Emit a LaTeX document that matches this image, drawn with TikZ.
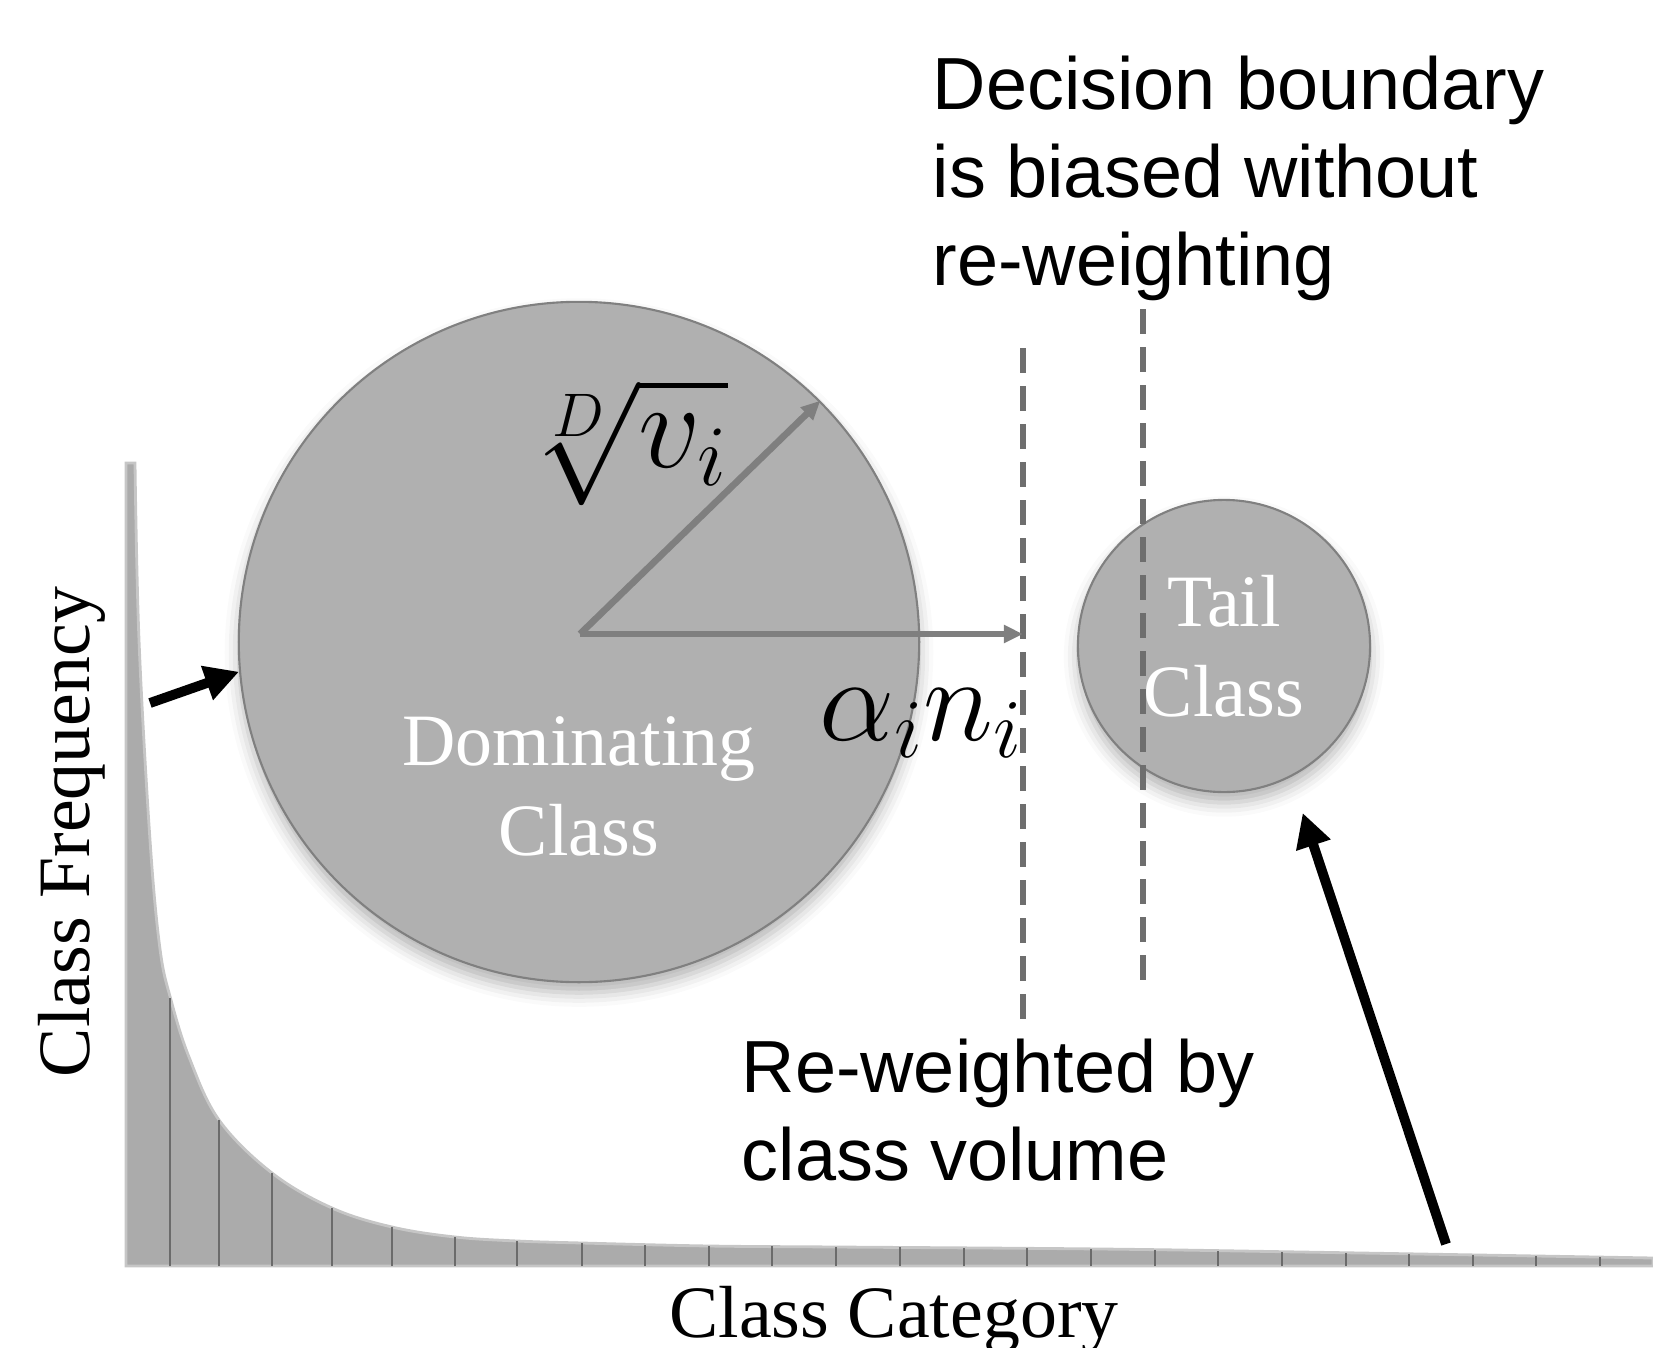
\RequirePackage{fix-cm}
\documentclass[tikz,border=0pt]{standalone}
\usepackage{amsmath,amssymb}
\usepackage{fontspec}
\setmainfont{Liberation Serif}
\newfontfamily\notefont{Liberation Sans}
\usepackage{tikz}
\usetikzlibrary{arrows.meta,positioning,calc,shadows.blur}
\usepackage{xcolor}
\definecolor{histgray}{HTML}{ABABAB}
\definecolor{histedge}{HTML}{C6C6C6}
\definecolor{bargray}{HTML}{6B6B6B}
\definecolor{ballgray}{HTML}{B0B0B0}
\definecolor{balledge}{HTML}{808080}
\definecolor{raygray}{HTML}{7F7F7F}
\definecolor{dashgray}{HTML}{6E6E6E}

\begin{document}
\begin{tikzpicture}[x=0.01cm, y=-0.01cm,
    ball/.style={circle, fill=ballgray, draw=balledge, line width=0.6pt, inner sep=0,
      blur shadow={shadow xshift=0pt, shadow yshift=-3pt, shadow blur radius=4pt, shadow opacity=30}},
    ray/.style={raygray, line width=1.9pt, -{Triangle[length=0.19cm, width=0.17cm]}},
    bigarrow/.style={black, line width=2.8pt, -{Triangle[length=0.34cm, width=0.34cm]}},
    boundary/.style={dashgray, line width=1.9pt, dash pattern=on 0.25cm off 0.13cm},
    note/.style={font=\notefont\fontsize{21}{25}\selectfont, align=left, inner sep=0},
    axislabel/.style={font=\fontsize{21}{25}\selectfont, inner sep=0},
    inlabel/.style={text=white, font=\fontsize{21}{25.5}\selectfont, align=center, inner sep=0},
    mathlabel/.style={inner sep=0, anchor=base west}]
                    \useasboundingbox (0,0) rectangle (1653,1348);
                    % long-tail histogram
                    \filldraw[fill=histgray, draw=histedge, line width=0.8pt] (126,1266) -- (126,463) -- plot[smooth, tension=0.6] coordinates {(135,463) (139,640) (150,840) (160,949) (171,1000) (189,1057) (219,1120) (272,1173) (332,1208) (392,1227) (455,1237) (517,1241) (582,1243) (709,1246) (836,1247) (1100,1249) (1300,1252) (1653,1258)} -- (1653,1266) -- cycle;
                    \foreach \x/\y in {170/998, 219/1120, 272/1173, 332/1208, 392/1227, 455/1237, 517/1241, 582/1243, 645/1245, 709/1246, 772/1246, 836/1247, 900/1247, 964/1248, 1027/1248, 1091/1249, 1155/1250, 1218/1251, 1282/1252, 1346/1253, 1409/1254, 1473/1255, 1536/1256, 1600/1257}
                        \draw[bargray, line width=0.6pt] (\x,1266) -- (\x,\y);
                    % classes
                    \node[ball, minimum size=6.8cm] (dom) at (579,642) {};
                    \node[ball, minimum size=2.92cm] (tail) at (1224,646) {};
                    % decision boundaries
                    \coordinate (reweighted top) at (1023,348);
                    \coordinate (reweighted bot) at (1023,1022);
                    \coordinate (biased top) at (1143,309);
                    \coordinate (biased bot) at (1143,980);
                    \draw[boundary] (reweighted top) -- (reweighted bot);
                    \draw[boundary] (biased top) -- (biased bot);
                    % radii
                    \coordinate (hub) at (580,634);
                    \draw[ray] (hub) -- (dom.45);
                    \draw[ray] (hub) -- (hub -| reweighted top);
                    % pointers
                    \coordinate (spike) at (150,703);
                    \draw[bigarrow] (spike) -- (dom.185);
                    \coordinate (tailfoot) at (1446,1244);
                    \draw[bigarrow, shorten >=0.377cm] (tailfoot) -- (tail.297);
                    % labels
                    \node[note, anchor=north west] (biasnote) at (932,55) {Decision boundary\\is biased without\\re-weighting};
                    \node[note, anchor=north west] (volnote) at (741,1038) {Re-weighted by\\class volume};
                    \node[axislabel, anchor=base] (xlabel) at (894,1337) {Class Category};
                    \node[axislabel, anchor=base, rotate=90] (ylabel) at (89,832) {Class Frequency};
                    \node[inlabel, anchor=north] (domtext) at (579,716) {Dominating\\Class};
                    \node[inlabel, anchor=north] (tailtext) at (1224,575) {Tail\\Class};
                    \node[mathlabel, font=\fontsize{35}{42}\selectfont] (rootlabel) at (518,467) {$\sqrt[D]{v_i}$};
                    \node[mathlabel, font=\fontsize{34}{40}\selectfont] (marginlabel) at (819,740) {$\alpha_i n_i$};
                \end{tikzpicture}
\end{document}
